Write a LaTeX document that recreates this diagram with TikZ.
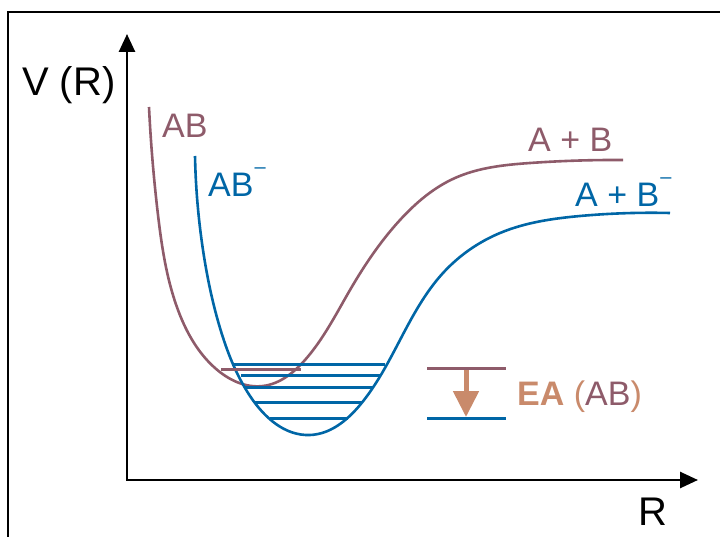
\documentclass[tikz,border=0pt]{standalone}
\usepackage{fontspec}
\setmainfont{Liberation Sans}
\usetikzlibrary{arrows.meta,hobby}
\definecolor{mauve}{HTML}{8E5B6A}
\definecolor{cblue}{HTML}{0066A6}
\definecolor{corange}{HTML}{C98A6B}
\newcommand\supminus{\kern1pt\raisebox{23pt}{\fontsize{20}{20}\selectfont –}}
\begin{document}
\begin{tikzpicture}[x=1pt,y=-1pt,
  curve/.style={line width=2.6pt},
  level/.style={line width=3pt},
  axis/.style={line width=2.6pt,{Triangle[width=16pt,length=18pt]}-{Triangle[width=16pt,length=18pt]}},
  lbl/.style={anchor=base west,inner sep=0pt,font=\fontsize{34}{40}\selectfont},
  biglbl/.style={anchor=base west,inner sep=0pt,font=\fontsize{40}{48}\selectfont},
]
\useasboundingbox (0,0) rectangle (720,537);
% frame
\draw[line width=2.8pt] (8,560) -- (8,12) -- (740,12);
% axes
\coordinate (O) at (127,480);
\coordinate (Ytip) at (127,34);
\coordinate (Xtip) at (698,480);
\draw[axis] (Ytip) -- (O) -- (Xtip);
\node[biglbl] (V) at (22,96) {V (R)};
\node[biglbl] (R) at (638,525) {R};
% AB curve
\draw[use Hobby shortcut, curve, mauve] (149,107) .. (158,215) .. (178,310) .. (215,368) .. (263,386) .. (305,360) .. (350,290) .. (400,220) .. (455,178) .. (530,163) .. (623,160);
% AB- curve
\draw[use Hobby shortcut, curve, cblue] (195,156) .. (203,250) .. (220,328) .. (250,396) .. (310,435) .. (360,405) .. (400,340) .. (443,273) .. (500,233) .. (580,216) .. (670,213);
% vibrational levels
\draw[level, cblue] (233,364) -- (385,364);
\draw[level, cblue] (241,375) -- (380,375);
\draw[level, cblue] (245,387) -- (373,387);
\draw[level, cblue] (254,402) -- (362,402);
\draw[level, cblue] (270,418) -- (348,418);
\draw[level, mauve] (221,369) -- (301,369);
% labels
\node[lbl, text=mauve] (lAB) at (162,138) {AB};
\node[lbl, text=cblue] (lABm) at (208,197) {AB\supminus};
\node[lbl, text=mauve] (lApB) at (528,152) {A + B};
\node[lbl, text=cblue] (lApBm) at (575,207) {A + B\supminus};
% EA
\coordinate (At) at (466,368);
\coordinate (Ab) at (466,417);
\draw[corange, line width=5pt, -{Triangle[width=25pt,length=26pt]}] (At) -- (Ab);
\draw[level, mauve] (427,368) -- (506,368);
\draw[level, cblue] (427,418) -- (506,418);
\node[anchor=base west, inner sep=0pt, font=\fontsize{34}{40}\selectfont] (EA) at (517,405) {\textcolor{corange}{\bfseries EA} \textcolor{corange}{(}\textcolor{mauve}{AB}\textcolor{corange}{)}};
\end{tikzpicture}
\end{document}
